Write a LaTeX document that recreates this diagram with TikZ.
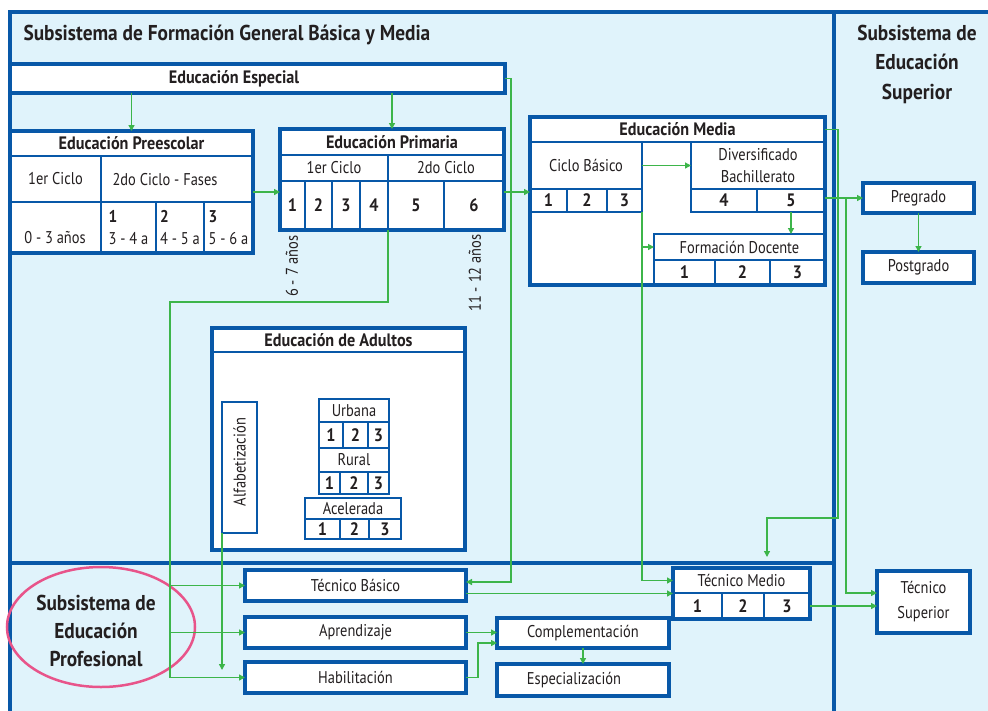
\documentclass[tikz,border=0pt]{standalone}
\usepackage{fontspec}
\setmainfont{PT Sans}[FakeStretch=0.85,BoldFeatures={FakeStretch=0.9}]
\usetikzlibrary{arrows.meta,calc,shapes.geometric}
\definecolor{bblue}{RGB}{8,88,168}
\definecolor{lblue}{RGB}{224,243,251}
\definecolor{gline}{RGB}{61,181,74}
\definecolor{pinkc}{RGB}{232,84,138}
\definecolor{txt}{RGB}{35,31,32}
\newcommand\bxx[7]{\pgfmathsetmacro\bxw{#5-#3}\pgfmathsetmacro\bxh{#6-#4}%
  \node[#1,anchor=north west,minimum width=\bxw pt,minimum height=\bxh pt,inner sep=0pt,outer sep=0pt] (#2) at (#3,#4) {#7};}
\begin{document}
\begin{tikzpicture}[x=1pt,y=-1pt,
  every node/.style={text=txt},
  frm/.style={draw=bblue,line width=3.2pt,fill=white},
  sub/.style={draw=bblue,line width=1.7pt},
  mid/.style={draw=bblue,line width=1.5pt},
  cel/.style={draw=bblue,line width=1.3pt},
  hd/.style={font=\fontsize{18}{20}\selectfont\bfseries},
  tx/.style={font=\fontsize{17}{22}\selectfont},
  nm/.style={font=\fontsize{18}{20}\selectfont\bfseries},
  ttl/.style={font=\fontsize{21.5}{29.5}\selectfont\bfseries},
  conn/.style={draw=gline,line width=1.3pt,-{Triangle[length=6pt,width=6pt]}},
]
\useasboundingbox (0,0) rectangle (988,710);
\clip (0,0) rectangle (988,710);
\fill[white] (0,0) rectangle (988,710);
\path[fill=lblue,draw=bblue,line width=3.2pt] (10,12) rectangle (996,722);
\draw[bblue,line width=3.2pt] (834,12) -- (834,722);
\draw[bblue,line width=3.2pt] (10,563) -- (834,563);

% titles
\node[ttl,anchor=west] (t1) at (20,35) {Subsistema de Formación General Básica y Media};
\node[ttl,align=center] (t2) at (917,64) {Subsistema de\\Educación\\Superior};

% Especial
\bxx{frm}{esp}{10}{64}{505}{93}{}
\node[hd] (espt) at (234,78.5) {Educación Especial};

% Preescolar
\bxx{frm}{pre}{10}{131}{253}{253}{}
\bxx{cel,hd}{preh}{10}{131}{253}{156}{Educación Preescolar}
\bxx{cel,tx}{prec1}{10}{156}{101}{202}{1er Ciclo}
\bxx{cel}{prec2}{101}{156}{253}{202}{}
\node[tx,anchor=west] (prec2t) at (109,180) {2do Ciclo - Fases};
\bxx{cel}{prea}{10}{202}{101}{253}{}
\node[tx] (preat) at (55,238) {0 - 3 años};
\bxx{cel,tx,align=left}{pref1}{101}{202}{156}{253}{\textbf{1}\\3 - 4 a}
\bxx{cel,tx,align=left}{pref2}{156}{202}{204}{253}{\textbf{2}\\4 - 5 a}
\bxx{cel,tx,align=left}{pref3}{204}{202}{253}{253}{\textbf{3}\\5 - 6 a}

% Primaria
\bxx{frm}{pri}{280}{129}{504}{230}{}
\bxx{cel,hd}{prih}{280}{129}{504}{155}{Educación Primaria}
\bxx{cel,tx}{pric1}{280}{155}{388}{181}{1er Ciclo}
\bxx{cel,tx}{pric2}{388}{155}{504}{181}{2do Ciclo}
\bxx{cel,nm}{p1}{280}{181}{305}{230}{1}
\bxx{cel,nm}{p2}{305}{181}{332}{230}{2}
\bxx{cel,nm}{p3}{332}{181}{360}{230}{3}
\bxx{cel,nm}{p4}{360}{181}{388}{230}{4}
\bxx{cel,nm}{p5}{388}{181}{444}{230}{5}
\bxx{cel,nm}{p6}{444}{181}{504}{230}{6}
\node[tx,rotate=90] (l67) at (292,266) {6 - 7 años};
\node[tx,rotate=90] (l1112) at (475,273) {11 - 12 años};

% Media
\bxx{frm}{med}{530}{117}{825}{285}{}
\bxx{cel,hd}{medh}{530}{117}{825}{142}{Educación Media}
\bxx{sub,tx}{cb}{530}{142}{642}{189}{Ciclo Básico}
\bxx{sub,nm}{cb1}{530}{189}{567}{212}{1}
\bxx{sub,nm}{cb2}{567}{189}{607}{212}{2}
\bxx{sub,nm}{cb3}{607}{189}{642}{212}{3}
\bxx{sub,tx,align=center}{div}{691}{142}{825}{189}{Diversificado\\Bachillerato}
\bxx{sub,nm}{div4}{691}{189}{757}{212}{4}
\bxx{sub,nm}{div5}{757}{189}{825}{212}{5}
\bxx{sub,tx}{fd}{654}{234}{825}{260}{Formación Docente}
\bxx{sub,nm}{fd1}{654}{260}{715}{285}{1}
\bxx{sub,nm}{fd2}{715}{260}{770}{285}{2}
\bxx{sub,nm}{fd3}{770}{260}{825}{285}{3}

% Superior
\bxx{frm,tx}{preg}{863}{183}{974}{213}{Pregrado}
\bxx{frm,tx}{post}{863}{252}{974}{283}{Postgrado}

% Adultos
\bxx{frm}{adu}{212}{328}{465}{550}{}
\bxx{cel,hd}{aduh}{212}{328}{465}{352}{Educación de Adultos}
\bxx{mid}{alf}{222}{402}{257}{533}{}
\node[tx,rotate=90] (alft) at (239.5,462) {Alfabetización};
\bxx{mid,tx}{urb}{319}{399}{389}{422}{Urbana}
\bxx{mid,nm}{u1}{319}{422}{343}{448}{1}
\bxx{mid,nm}{u2}{343}{422}{368}{448}{2}
\bxx{mid,nm}{u3}{368}{422}{389}{448}{3}
\bxx{mid,tx}{rur}{319}{448}{389}{472}{Rural}
\bxx{mid,nm}{r1}{319}{472}{340}{494}{1}
\bxx{mid,nm}{r2}{340}{472}{368}{494}{2}
\bxx{mid,nm}{r3}{368}{472}{389}{494}{3}
\bxx{mid,tx}{ace}{305}{498}{401}{519}{Acelerada}
\bxx{mid,nm}{a1}{305}{519}{340}{539}{1}
\bxx{mid,nm}{a2}{340}{519}{369}{539}{2}
\bxx{mid,nm}{a3}{369}{519}{401}{539}{3}

% Profesional
\bxx{frm,tx}{tb}{245}{570}{466}{601}{Técnico Básico}
\bxx{frm,tx}{apr}{245}{617}{466}{648}{Aprendizaje}
\bxx{frm,tx}{hab}{245}{662}{466}{693}{Habilitación}
\bxx{frm,tx}{com}{497}{618}{669}{648}{Complementación}
\bxx{frm}{esz}{497}{664}{669}{696}{}
\node[tx] (eszt) at (574,680) {Especialización};
\bxx{frm}{tm}{673}{568}{810}{619}{}
\bxx{cel,tx}{tmh}{673}{568}{810}{593}{Técnico Medio}
\bxx{cel,nm}{tm1}{673}{593}{722}{619}{1}
\bxx{cel,nm}{tm2}{722}{593}{764}{619}{2}
\bxx{cel,nm}{tm3}{764}{593}{810}{619}{3}
\bxx{frm,tx,align=center,font=\fontsize{17}{25}\selectfont}{ts}{877}{571}{970}{633}{Técnico\\Superior}

\node[draw=pinkc,line width=2.5pt,ellipse,minimum width=188pt,minimum height=120pt] (ell) at (101,627) {};
\node[ttl,align=center,font=\fontsize{21.5}{28}\selectfont\bfseries] (proft) at (96,631) {Subsistema de\\Educación\\Profesional};

% connectors
\coordinate (trunk) at (170,302);
\coordinate (espr) at (511,582);
\coordinate (alfend) at (222,670);
\coordinate (medr) at (838,518);
\coordinate (tmin) at (767,557);
\coordinate (supr) at (846,198);
\coordinate (habr) at (478,643);

\draw[conn] (pre.north |- esp.south) -- (pre.north);
\draw[conn] (pri.north |- esp.south) -- (pri.north);
\draw[conn] (esp.east) -| (espr) -- (tb.east |- espr);
\draw[conn] (pre.east |- 0,192) -- (pri.west |- 0,192);
\draw[conn] (pri.east |- 0,192) -- (med.west |- 0,192);
\draw[conn] (p4.south east) |- (trunk) |- (hab.west);
\draw[conn] (tb.west -| trunk) -- (tb.west);
\draw[conn] (apr.west -| trunk) -- (apr.west);
\draw[conn] (alf.south west) -- (alfend);
\draw[conn] (cb.east) -- (div.west);
\draw[conn] (div5.south) -- (div5.south |- fd.north);
\draw[conn] (cb3.south east) |- (tmh.west);
\draw[conn] (cb3.south east |- fd.west) -- (fd.west);
\draw[conn] (medh.east) -| (medr) -| (tmin);
\draw[conn] (div5.east |- preg.west) -- (preg.west);
\draw[conn] (supr) |- (ts.west |- 0,593);
\draw[conn] (tm3.east) -- (ts.west |- tm3.east);
\draw[conn] (tb.east |- tm.west) -- (tm.west);
\draw[conn] (preg.south) -- (post.north);
\draw[conn] (apr.east) -- (com.west |- apr.east);
\draw[conn] (hab.east) -| (habr) -- (com.west |- habr);
\draw[conn] (com.south) -- (esz.north -| com.south);
\end{tikzpicture}
\end{document}
